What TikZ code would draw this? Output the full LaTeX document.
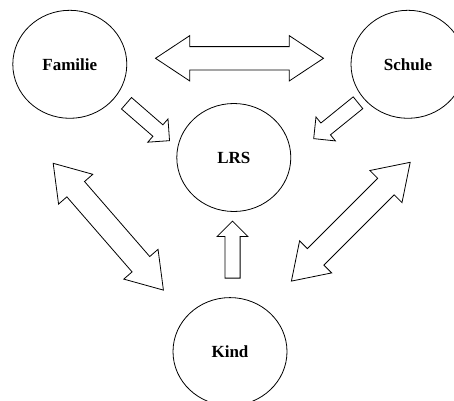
\documentclass[tikz,border=0pt]{standalone}
\usepackage{fontspec}
\setmainfont{Liberation Serif}
\usetikzlibrary{shapes.geometric,shapes.arrows}
\begin{document}
\begin{tikzpicture}[x=1pt, y=1pt,
    bubble/.style={draw, line width=0.8pt, ellipse, minimum width=114pt, minimum height=108pt,
        inner sep=0pt, font=\fontsize{17}{20}\selectfont\bfseries},
    twoway/.style={draw, line width=0.8pt, double arrow, inner xsep=0pt, inner ysep=11.3pt,
        double arrow head extend=11pt, double arrow tip angle=67,
        minimum width=45pt, minimum height=168pt},
    oneway/.style={draw, line width=0.8pt, single arrow, inner xsep=0pt, inner ysep=7.2pt,
        single arrow head extend=7.8pt, single arrow tip angle=90,
        minimum width=30pt, minimum height=57pt, anchor=tail}]
    \useasboundingbox (0,0) rectangle (454,400);

    % Circles
    \node[bubble] (fam) at (69.8,335.7) {Familie};
    \node[bubble] (sch) at (408,335.7) {Schule};
    \node[bubble] (lrs) at (233.8,242.5) {LRS};
    \node[bubble] (kid) at (230,48.4) {Kind};

    % Two-way arrows
    \node[twoway] (famsch) at (239.5,341.7) {};
    \node[twoway, rotate=-49] (famkid) at (108.3,173.3) {};
    \node[twoway, rotate=45] (schkid) at (350.8,178.3) {};

    % One-way arrows into LRS
    \node[oneway, rotate=-41] (famlrs) at (126.2,297) {};
    \node[oneway, rotate=219] (schlrs) at (358.3,297.5) {};
    \node[oneway, rotate=90] (kidlrs) at (232.5,121.5) {};
\end{tikzpicture}
\end{document}
